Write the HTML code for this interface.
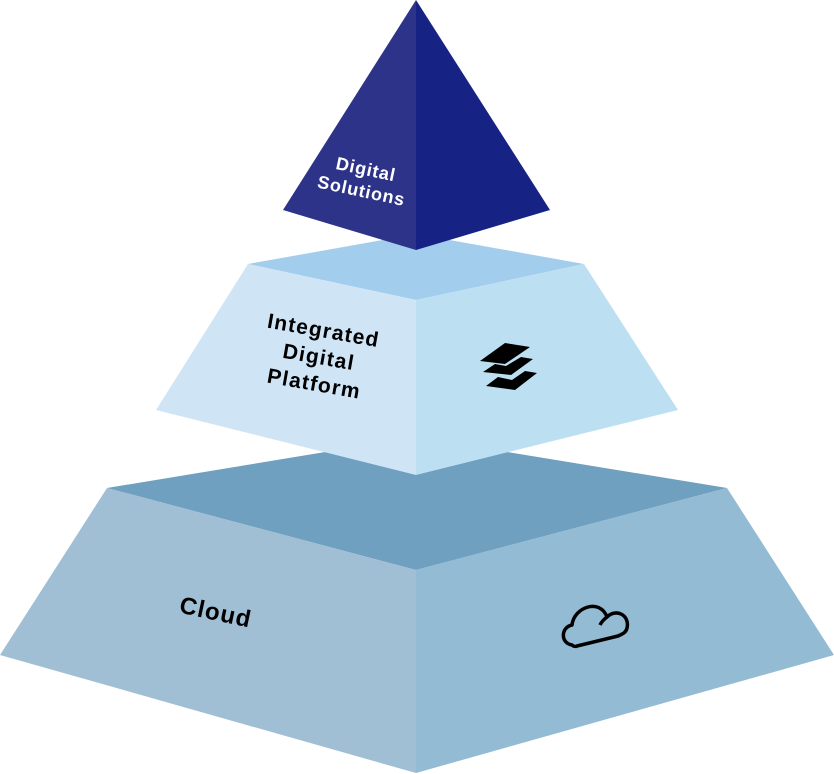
<!DOCTYPE html>
<html><head><style>html,body{margin:0;padding:0;background:#fff}svg{display:block}</style></head><body>
<svg width="834" height="774" viewBox="0 0 834 774" xmlns="http://www.w3.org/2000/svg" font-family="Liberation Sans, sans-serif" font-weight="bold">
<polygon points="107,488 416,437 727,488 416,570" fill="#6fa0c0"/>
<polygon points="107,488 416,570 416,773 0,655" fill="#a0bfd5"/>
<polygon points="416,570 727,488 834,655 416,773" fill="#93bbd3"/>
<polygon points="248,264 416,234 584,264 416,300" fill="#a3cdec"/>
<polygon points="248,264 416,300 416,475 156,410" fill="#cfe5f5"/>
<polygon points="416,300 584,264 678,410 416,475" fill="#bce0f2"/>
<polygon points="416,0 416,250 283,210" fill="#2e338a"/>
<polygon points="416,0 550,210 416,250" fill="#162384"/>
<text transform="translate(363,183) rotate(12)" text-anchor="middle" fill="#fff" font-size="18" letter-spacing="0.8"><tspan x="0" y="-8">Digital</tspan><tspan x="0" y="14">Solutions</tspan></text>
<text transform="translate(318,362) rotate(10)" text-anchor="middle" fill="#000" font-size="21" letter-spacing="1.2"><tspan x="0" y="-25">Integrated</tspan><tspan x="0" y="2">Digital</tspan><tspan x="0" y="29">Platform</tspan></text>
<text transform="translate(214,620) rotate(12)" text-anchor="middle" fill="#000" font-size="24" letter-spacing="1">Cloud</text>
<polygon points="480,361 505,343 530,347 505,364" fill="#000"/>
<polygon points="483,372 495,364 506,366 521,357 533,359 511,375" fill="#000"/>
<polygon points="486,386 498,377 512,380 525,371 537,373 515,390" fill="#000"/>
<path d="M572,645 C560,643 561,627 572,625 C574,607 600,598 607,617 C616,608 630,615 627,628 C626,633 622,634 618,636 L577,646 C575,647 573,646 572,645 Z" fill="none" stroke="#000" stroke-width="3.5" stroke-linejoin="round"/>
<path d="M607,617 C603,620 601,623 600,625" fill="none" stroke="#000" stroke-width="3.5"/>
</svg>
</body></html>
